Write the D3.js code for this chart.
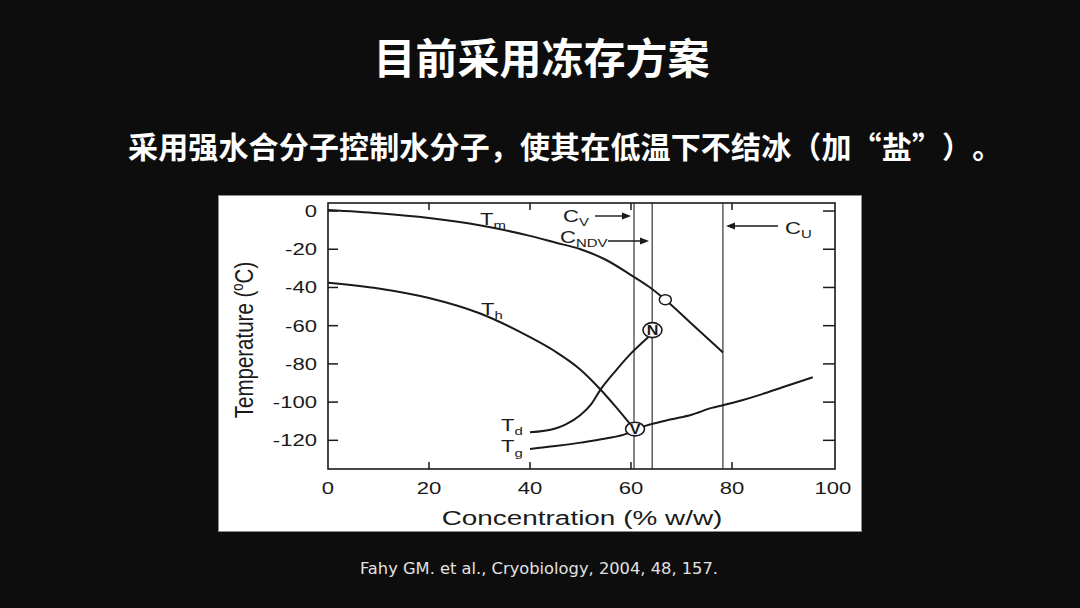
<!DOCTYPE html>
<html><head><meta charset="utf-8">
<script src="https://cdn.jsdelivr.net/npm/d3@7"></script>
<style>html,body{margin:0;padding:0;background:#0d0d0d;overflow:hidden} svg{display:block}</style>
</head><body>
<svg id="c" width="1080" height="608"></svg>
<script>
// ---- data ----
const titleText = "目前采用冻存方案";
const subtitleText = "采用强水合分子控制水分子，使其在低温下不结冰（加“盐”）。";
const citeText = "Fahy GM. et al., Cryobiology, 2004, 48, 157.";
const xTicks = [0, 20, 40, 60, 80, 100];
const yTicks = [0, -20, -40, -60, -80, -100, -120];
const innerXTicks = [20, 40, 60, 80];

const tmConc = [0, 10, 20, 30, 40, 45, 50, 55, 60, 63.5, 66.8, 72, 78.2];
const tmTemp = [0.5, -1.2, -3.7, -7.5, -13, -16.5, -20, -25.5, -33.5, -39.5, -46.4, -59, -74];

const thConc = [0, 10, 20, 30, 40, 45, 50, 54, 57, 60.6];
const thTemp = [-37.5, -40.5, -45.5, -53.5, -66, -73.5, -83, -93.5, -102.5, -114];

const tdConc = [40, 45, 47, 50, 52, 53.9, 57, 60, 63.4];
const tdTemp = [-115.8, -113.8, -111.8, -106.8, -101.5, -93.7, -83.5, -74.5, -66];

const tgConc = [40, 45, 50, 55, 59, 60.8, 64, 68, 72, 76, 78.2, 82, 86, 90, 96];
const tgTemp = [-124.5, -123, -121.2, -119, -116.6, -114.3, -111.5, -109, -106.6, -103, -101.6, -99, -95.8, -92.2, -87];

const vlineConc = [60.6, 64.2, 78.2];           // C_V, C_NDV, C_U
const tmMarker = [66.8, -46.4];
const nMarker = [64.25, -62.3];
const vMarker = [60.8, -114.1];

// ---- drawing ----
const svg = d3.select("#c");
svg.append("rect").attr("width", 1080).attr("height", 608).attr("fill", "#0d0d0d");

svg.append("text").attr("x", 541.5).attr("y", 74).attr("text-anchor", "middle")
  .attr("font-family", "Noto Sans CJK SC").attr("font-weight", "bold").attr("font-size", 42)
  .attr("fill", "#fff").text(titleText);

// subtitle: full-width character cells
const subChars = Array.from(subtitleText);
const adv = 30.15;
const subX = subChars.map((c, i) => 128 + i * adv);
svg.append("text").attr("x", subX.join(" ")).attr("y", 158)
  .attr("font-family", "Noto Sans CJK SC").attr("font-weight", "bold").attr("font-size", 30)
  .attr("fill", "#fff").text(subtitleText);

svg.append("text").attr("x", 539).attr("y", 574).attr("text-anchor", "middle")
  .attr("font-family", "'DejaVu Sans', sans-serif").attr("font-size", 16.3)
  .attr("fill", "#e2e2e2").text(citeText);

// white panel
svg.append("rect").attr("x", 218.5).attr("y", 195.5).attr("width", 643).attr("height", 336)
  .attr("fill", "#fff").attr("stroke", "#8a8a8a").attr("stroke-width", 1);

const x = d3.scaleLinear().domain([0, 100.4]).range([328, 835]);
const y = d3.scaleLinear().domain([4.2, -135]).range([203, 469]);
const SX = 1.3;
const FF = "'Liberation Sans', Arial, sans-serif";
const ink = "#1a1a1a";

const g = svg.append("g");

// vertical lines
g.selectAll("line.v").data(vlineConc).join("line")
  .attr("x1", d => x(d)).attr("x2", d => x(d)).attr("y1", y(4.2)).attr("y2", y(-135))
  .attr("stroke", "#444").attr("stroke-width", 1.3);

// frame
g.append("rect").attr("x", x(0)).attr("y", y(4.2)).attr("width", x(100.4) - x(0)).attr("height", y(-135) - y(4.2))
  .attr("fill", "none").attr("stroke", ink).attr("stroke-width", 1.6);

// ticks
g.selectAll("line.yl").data(yTicks).join("line")
  .attr("x1", x(0)).attr("x2", x(0) + 10).attr("y1", d => y(d)).attr("y2", d => y(d)).attr("stroke", ink).attr("stroke-width", 1.5);
g.selectAll("line.yr").data(yTicks).join("line")
  .attr("x1", x(100.4)).attr("x2", x(100.4) - 12).attr("y1", d => y(d)).attr("y2", d => y(d)).attr("stroke", ink).attr("stroke-width", 1.5);
g.selectAll("line.xb").data(innerXTicks).join("line")
  .attr("x1", d => x(d)).attr("x2", d => x(d)).attr("y1", y(-135)).attr("y2", y(-135) - 7).attr("stroke", ink).attr("stroke-width", 1.5);
g.selectAll("line.xt").data(innerXTicks).join("line")
  .attr("x1", d => x(d)).attr("x2", d => x(d)).attr("y1", y(4.2)).attr("y2", y(4.2) + 7).attr("stroke", ink).attr("stroke-width", 1.5);

// tick labels
g.selectAll("g.yt").data(yTicks).join("g")
  .attr("transform", d => `translate(317,${y(d) + 6}) scale(${SX},1)`)
  .append("text").attr("text-anchor", "end").attr("font-family", FF).attr("font-size", 17)
  .attr("fill", ink).text(d => d);
g.selectAll("g.xt").data(xTicks).join("g")
  .attr("transform", d => `translate(${x(d)},${494}) scale(${SX},1)`)
  .append("text").attr("text-anchor", "middle").attr("font-family", FF).attr("font-size", 17)
  .attr("fill", ink).text(d => d);

// axis titles
g.append("g").attr("transform", `translate(582,525) scale(${SX + 0.03},1)`)
  .append("text").attr("text-anchor", "middle").attr("font-family", FF).attr("font-size", 21)
  .attr("fill", ink).text("Concentration (% w/w)");
const yt = g.append("g").attr("transform", `translate(253,340) scale(${SX},1) rotate(-90)`)
  .append("text").attr("text-anchor", "middle").attr("font-family", FF).attr("font-size", 20.5).attr("fill", ink);
yt.append("tspan").text("Temperature (");
yt.append("tspan").attr("font-size", 13).attr("dy", -8).text("o");
yt.append("tspan").attr("dy", 8).text("C)");

// curves
const line = d3.line().x(d => x(d[0])).y(d => y(d[1])).curve(d3.curveMonotoneX);
const series = [
  d3.zip(tmConc, tmTemp), d3.zip(thConc, thTemp), d3.zip(tdConc, tdTemp), d3.zip(tgConc, tgTemp)
];
g.selectAll("path.s").data(series).join("path")
  .attr("d", line).attr("fill", "none").attr("stroke", ink).attr("stroke-width", 2);

// markers
g.append("ellipse").attr("cx", x(tmMarker[0])).attr("cy", y(tmMarker[1])).attr("rx", 6).attr("ry", 5)
  .attr("fill", "#fff").attr("stroke", ink).attr("stroke-width", 1.5);
[[nMarker, "N", 9.5, 7.5], [vMarker, "V", 9.5, 6.8]].forEach(([m, t, rx, ry]) => {
  g.append("ellipse").attr("cx", x(m[0])).attr("cy", y(m[1])).attr("rx", rx).attr("ry", ry)
    .attr("fill", "#fff").attr("stroke", ink).attr("stroke-width", 1.6);
  g.append("g").attr("transform", `translate(${x(m[0])},${y(m[1]) + 5}) scale(1.15,1)`)
    .append("text").attr("text-anchor", "middle").attr("font-family", FF).attr("font-weight", "bold")
    .attr("font-size", 14).attr("fill", ink).text(t);
});

// curve labels with subscripts
function label(px, py, main, sub, subDy, mainSize, subSize) {
  const t = g.append("g").attr("transform", `translate(${px},${py}) scale(${SX},1)`)
    .append("text").attr("font-family", FF).attr("fill", ink).attr("font-size", mainSize);
  t.append("tspan").text(main);
  t.append("tspan").attr("font-size", subSize).attr("dy", subDy).text(sub);
}
label(480, 225, "T", "m", 4, 17, 11.5);
label(481, 315, "T", "h", 4, 17, 11.5);
label(501, 431, "T", "d", 4, 17, 11.5);
label(501, 452, "T", "g", 5, 17, 11.5);
label(563, 222, "C", "V", 4, 17, 11.5);
label(560, 243, "C", "NDV", 4, 17, 11.5);
label(785, 234, "C", "U", 4, 17, 11.5);

// arrows
const arrows = [[595, 631, 216], [608, 649, 241], [778, 726, 226]];
arrows.forEach(([x1, x2, yy]) => {
  g.append("line").attr("x1", x1).attr("x2", x2 - Math.sign(x2 - x1) * 6).attr("y1", yy).attr("y2", yy)
    .attr("stroke", ink).attr("stroke-width", 1.4);
  const s = Math.sign(x2 - x1);
  g.append("path").attr("d", `M${x2},${yy} L${x2 - s * 9},${yy - 3.5} L${x2 - s * 9},${yy + 3.5} Z`).attr("fill", ink);
});
</script>
</body></html>
